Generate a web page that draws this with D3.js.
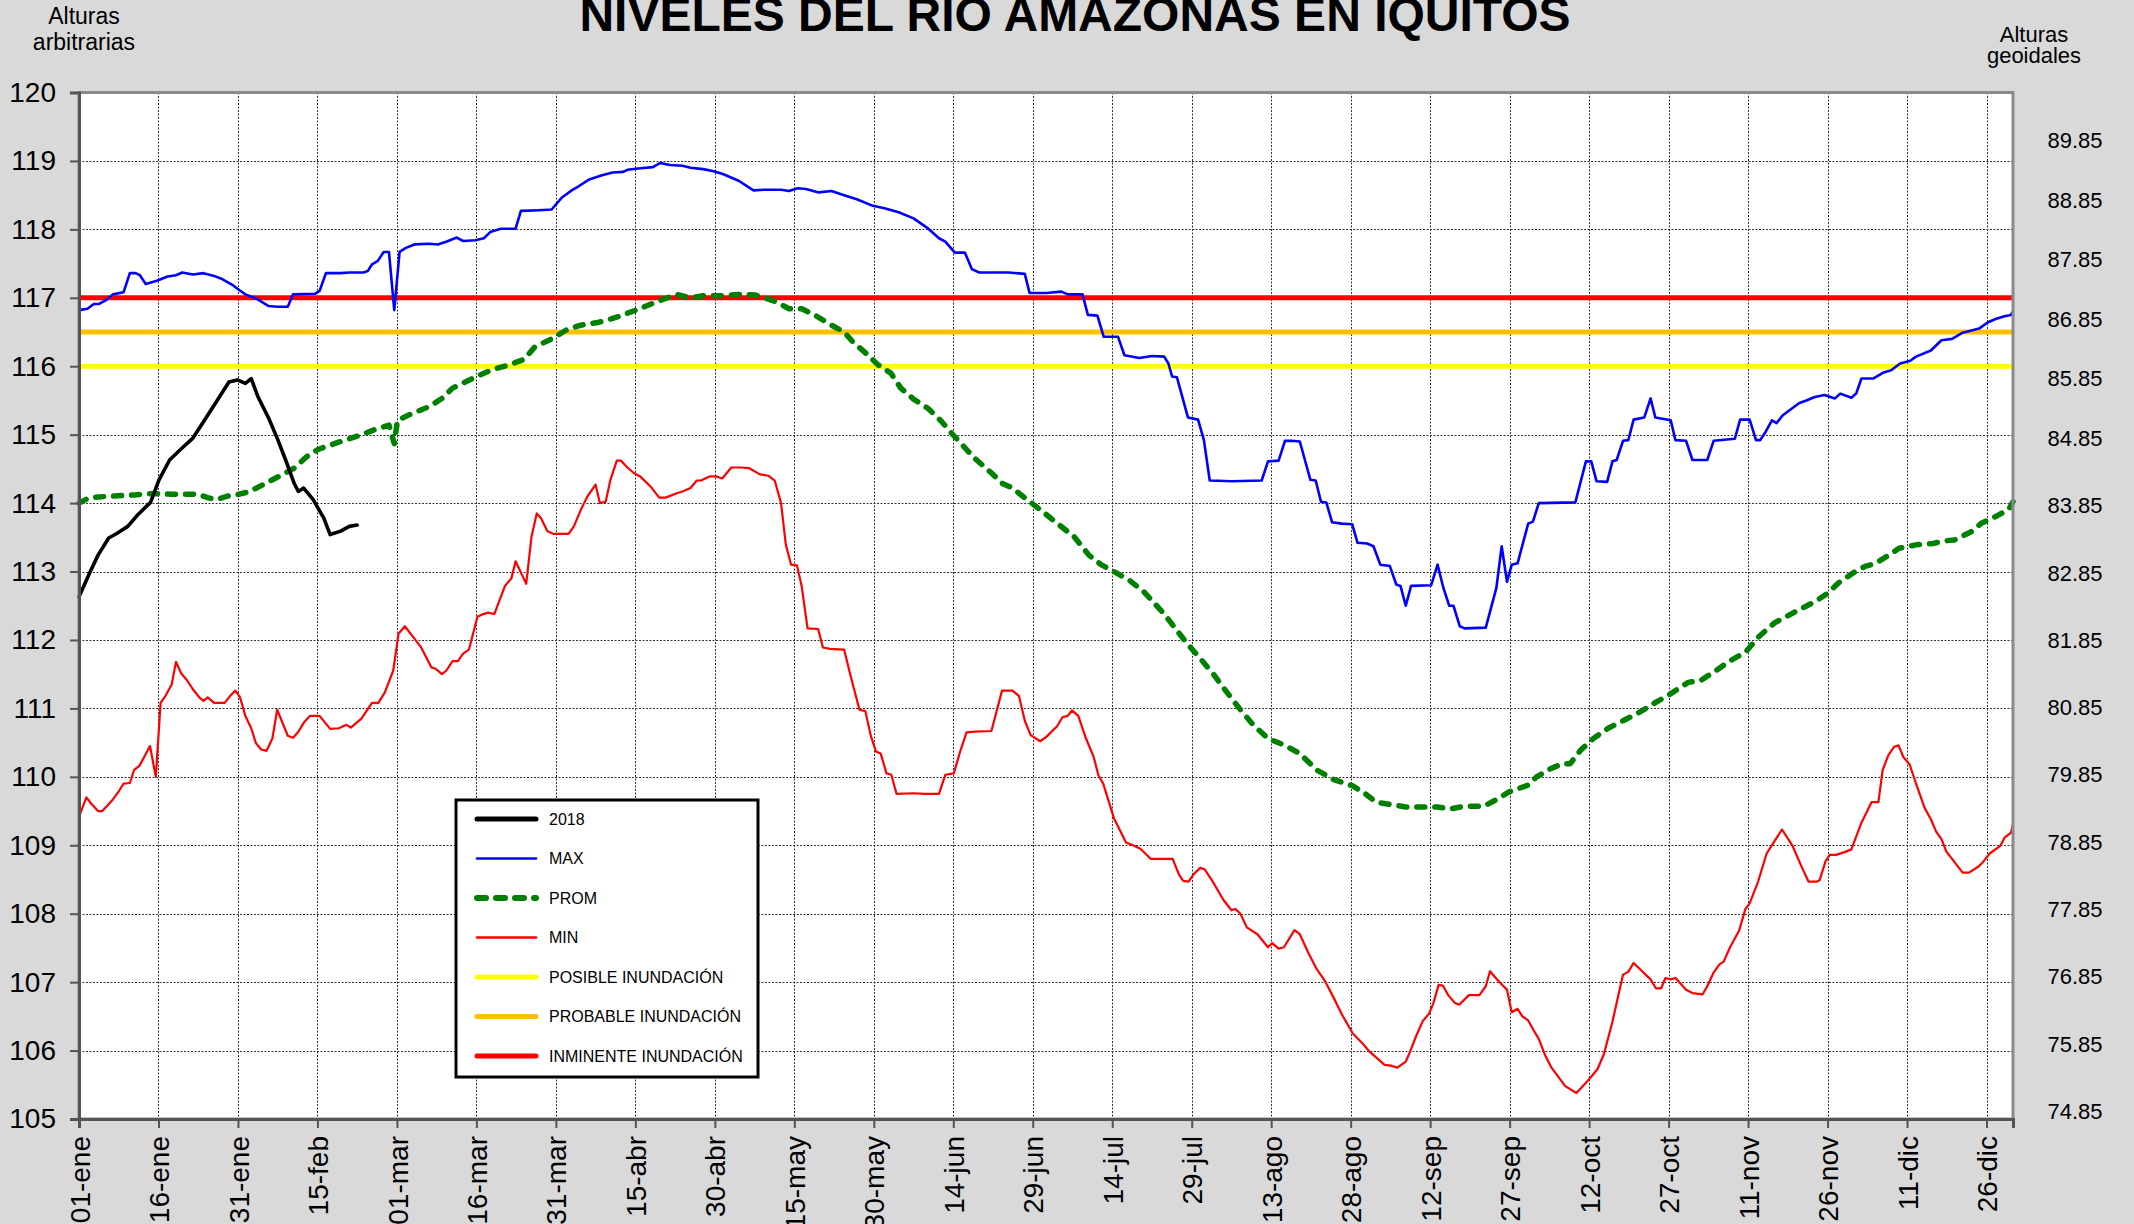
<!DOCTYPE html>
<html>
<head>
<meta charset="utf-8">
<script src="https://cdn.jsdelivr.net/npm/d3@7"></script>
<style>
  html, body { margin: 0; padding: 0; background: #d9d9d9; }
  svg { display: block; }
  text { font-family: "Liberation Sans", Arial, sans-serif; }
</style>
</head>
<body>
<svg id="chart" width="2134" height="1224"></svg>
<script>
// Day-of-year positions (0 = 01-ene, 366-day calendar) and river levels.
const dias2018 = [0, 2, 3.6, 5.6, 7.2, 9.2, 11.1, 13.5, 15.1, 17.1, 19.1, 21.5, 23.1, 25.5, 28.3, 29.9, 31.4, 32.5, 33.8, 35.8, 37.4, 39.0, 40.6, 41.4, 42.4, 44.2, 46.2, 47.4, 49.4, 51.0, 52.5];
const niv2018 = [112.63, 112.98, 113.24, 113.49, 113.56, 113.66, 113.83, 114.01, 114.34, 114.63, 114.78, 114.95, 115.14, 115.43, 115.77, 115.80, 115.75, 115.82, 115.55, 115.24, 114.95, 114.63, 114.29, 114.17, 114.22, 114.05, 113.78, 113.54, 113.59, 113.66, 113.68];

const diasMax = [0, 1.6, 2.8, 3.8, 5.2, 6.4, 8.4, 9.6, 10.7, 11.5, 12.6, 14.7, 16.7, 18.3, 19.5, 21.5, 23.5, 25.5, 27.1, 29.1, 30.3, 31.4, 33.4, 35.8, 37.4, 39.4, 40.4, 44.6, 45.4, 46.6, 49.4, 51.0, 53.7, 54.5, 55.3, 56.4, 57.5, 58.5, 59.5, 60.5, 61.7, 63.3, 66.1, 67.7, 69.3, 71.3, 72.5, 74.8, 76.4, 77.6, 79.6, 82.4, 83.4, 86.8, 89.2, 91.2, 93.2, 94.3, 96.3, 98.7, 100.7, 102.7, 103.5, 105.5, 108.3, 109.7, 111.5, 113.9, 115.4, 117.8, 119.8, 121.5, 124.5, 127.3, 129.3, 132.5, 134.0, 135.6, 137.2, 139.6, 142.0, 144.4, 146.8, 149.6, 152.0, 154.7, 157.5, 160.3, 162.3, 163.5, 165.3, 167.2, 168.5, 169.9, 175.4, 178.5, 179.4, 182.6, 185.4, 186.6, 189.4, 190.4, 192.2, 193.4, 196.1, 197.3, 200.1, 202.5, 204.8, 205.6, 206.3, 207.2, 209.3, 211.2, 212.3, 213.4, 217.6, 223.2, 224.4, 226.4, 227.6, 228.8, 230.4, 232.4, 233.4, 234.4, 235.4, 236.5, 238.3, 240.3, 241.3, 243.1, 244.3, 245.6, 247.4, 248.6, 249.4, 250.4, 251.4, 255.2, 256.4, 257.5, 258.6, 259.4, 260.6, 261.5, 265.5, 267.5, 268.5, 269.5, 270.4, 271.5, 273.5, 274.4, 275.5, 282.4, 284.4, 285.4, 286.4, 288.4, 289.4, 290.2, 291.4, 292.4, 293.4, 295.4, 296.6, 297.5, 300.4, 301.3, 303.3, 304.5, 307.3, 308.5, 312.5, 313.5, 315.3, 316.5, 317.3, 318.3, 319.5, 320.4, 321.5, 324.6, 326.0, 327.6, 329.4, 331.4, 332.4, 334.5, 335.4, 336.4, 338.6, 340.6, 342.0, 343.7, 345.6, 346.7, 349.5, 351.5, 353.5, 355.5, 358.6, 360.2, 361.7, 363.4, 364.6, 365];
const nivMax = [116.82, 116.84, 116.91, 116.91, 116.97, 117.05, 117.08, 117.36, 117.36, 117.33, 117.20, 117.25, 117.31, 117.33, 117.37, 117.34, 117.36, 117.32, 117.27, 117.18, 117.11, 117.05, 116.99, 116.88, 116.87, 116.87, 117.05, 117.06, 117.10, 117.36, 117.36, 117.37, 117.37, 117.39, 117.49, 117.54, 117.67, 117.67, 116.82, 117.67, 117.73, 117.78, 117.79, 117.78, 117.82, 117.88, 117.83, 117.84, 117.87, 117.96, 118.01, 118.01, 118.27, 118.28, 118.29, 118.47, 118.58, 118.63, 118.73, 118.79, 118.83, 118.84, 118.87, 118.89, 118.91, 118.97, 118.94, 118.93, 118.90, 118.88, 118.85, 118.81, 118.71, 118.57, 118.58, 118.58, 118.56, 118.60, 118.59, 118.54, 118.56, 118.50, 118.44, 118.35, 118.31, 118.25, 118.16, 118.01, 117.87, 117.82, 117.66, 117.66, 117.42, 117.37, 117.37, 117.35, 117.07, 117.07, 117.09, 117.05, 117.05, 116.75, 116.74, 116.43, 116.43, 116.16, 116.12, 116.15, 116.14, 116.04, 115.85, 115.84, 115.25, 115.22, 114.92, 114.33, 114.32, 114.33, 114.61, 114.62, 114.91, 114.91, 114.90, 114.34, 114.33, 114.02, 114.01, 113.72, 113.70, 113.69, 113.42, 113.41, 113.37, 113.10, 113.08, 112.81, 112.79, 112.50, 112.79, 112.80, 113.10, 112.76, 112.50, 112.50, 112.20, 112.17, 112.18, 112.76, 113.37, 112.85, 113.10, 113.12, 113.70, 113.73, 114.00, 114.01, 114.61, 114.61, 114.32, 114.31, 114.61, 114.63, 114.91, 114.92, 115.22, 115.25, 115.53, 115.25, 115.21, 114.92, 114.91, 114.63, 114.63, 114.91, 114.94, 115.22, 115.22, 114.92, 114.92, 115.04, 115.21, 115.17, 115.28, 115.46, 115.50, 115.55, 115.58, 115.53, 115.60, 115.54, 115.60, 115.82, 115.82, 115.91, 115.94, 116.04, 116.08, 116.14, 116.23, 116.38, 116.40, 116.49, 116.55, 116.64, 116.69, 116.73, 116.75, 116.80];

const diasProm = [0, 2, 5.6, 10.4, 14.3, 17.5, 22.3, 24.3, 25.9, 27.9, 30.3, 32.2, 35.0, 38.2, 40.6, 43.0, 45.0, 48.6, 52.6, 55.7, 58.5, 59.5, 60.1, 62.9, 66.1, 68.5, 70.5, 72.9, 75.6, 78.0, 81.2, 84.0, 86.0, 89.2, 92.0, 94.7, 97.9, 99.1, 101.9, 105.5, 108.3, 110.7, 112.7, 115.4, 117.8, 121.5, 124.5, 127.7, 131.7, 134.0, 136.4, 138.8, 142.0, 144.4, 146.0, 148.8, 150.8, 153.2, 155.1, 157.5, 160.3, 162.7, 164.7, 166.7, 169.1, 172.2, 174.2, 176.2, 178.6, 181.8, 185.0, 187.8, 190.6, 192.9, 195.3, 198.1, 200.9, 204.1, 205.7, 208.9, 211.7, 214.1, 216.4, 219.2, 221.6, 224.4, 227.6, 230.4, 233.6, 236.8, 240.3, 242.3, 244.8, 247.2, 250.4, 253.6, 256.4, 258.8, 261.5, 265.1, 267.1, 269.9, 273.5, 275.1, 277.5, 279.9, 281.4, 283.4, 285.8, 288.6, 291.4, 294.2, 297.4, 300.5, 303.7, 306.1, 308.5, 311.7, 314.5, 316.9, 320.0, 323.6, 327.6, 330.0, 332.0, 334.8, 337.2, 338.8, 341.6, 343.5, 346.7, 349.9, 352.3, 353.9, 357.1, 359.1, 361.9, 364.2, 365];
const nivProm = [114.00, 114.08, 114.10, 114.12, 114.14, 114.13, 114.13, 114.08, 114.05, 114.10, 114.13, 114.17, 114.28, 114.41, 114.51, 114.68, 114.78, 114.88, 114.98, 115.07, 115.14, 114.87, 115.21, 115.31, 115.41, 115.53, 115.68, 115.77, 115.87, 115.95, 116.02, 116.10, 116.28, 116.40, 116.53, 116.60, 116.64, 116.66, 116.73, 116.83, 116.92, 116.99, 117.05, 117.00, 117.03, 117.03, 117.05, 117.04, 116.94, 116.84, 116.84, 116.75, 116.60, 116.50, 116.36, 116.17, 116.02, 115.90, 115.68, 115.52, 115.38, 115.20, 115.02, 114.85, 114.65, 114.44, 114.29, 114.22, 114.07, 113.88, 113.68, 113.51, 113.24, 113.10, 113.00, 112.88, 112.71, 112.44, 112.29, 111.97, 111.72, 111.50, 111.26, 110.98, 110.76, 110.56, 110.46, 110.34, 110.10, 109.96, 109.87, 109.78, 109.63, 109.60, 109.56, 109.56, 109.56, 109.53, 109.57, 109.57, 109.65, 109.78, 109.88, 110.00, 110.11, 110.19, 110.19, 110.39, 110.56, 110.71, 110.82, 110.93, 111.08, 111.22, 111.38, 111.41, 111.53, 111.70, 111.82, 112.04, 112.25, 112.40, 112.56, 112.68, 112.83, 112.98, 113.08, 113.11, 113.24, 113.34, 113.39, 113.41, 113.45, 113.46, 113.58, 113.71, 113.81, 113.91, 114.02];

const diasMin = [0, 1.4, 2.4, 3.6, 4.4, 5.6, 6.4, 7.6, 8.4, 9.6, 10.4, 11.4, 12.3, 13.4, 14.5, 15.4, 16.3, 17.5, 18.3, 19.3, 20.3, 21.5, 22.7, 23.5, 24.3, 25.5, 27.5, 28.5, 29.5, 30.4, 31.4, 32.5, 33.4, 34.4, 35.4, 36.5, 37.4, 38.4, 39.4, 40.4, 41.4, 42.6, 43.6, 45.4, 47.4, 49.0, 50.5, 51.3, 53.3, 55.3, 56.5, 57.7, 59.3, 60.3, 61.5, 62.9, 64.5, 66.5, 67.3, 68.5, 69.3, 70.5, 71.5, 72.5, 73.6, 75.2, 76.0, 77.2, 78.4, 80.4, 81.6, 82.4, 84.4, 85.4, 86.4, 87.2, 88.4, 89.6, 92.4, 93.4, 94.7, 95.9, 97.5, 98.3, 99.4, 100.3, 101.5, 102.3, 103.5, 104.7, 105.9, 107.9, 109.5, 110.7, 112.7, 113.9, 115.4, 116.6, 117.4, 119.0, 120.2, 121.4, 123.1, 124.9, 126.5, 128.5, 130.1, 131.3, 132.5, 133.4, 134.4, 135.5, 136.4, 137.5, 139.5, 140.4, 141.8, 144.4, 145.6, 147.3, 148.4, 149.4, 150.4, 151.3, 152.4, 153.3, 154.3, 157.5, 159.5, 162.3, 163.5, 165.1, 166.3, 167.5, 169.1, 172.2, 174.2, 176.2, 177.4, 178.5, 179.6, 181.4, 182.5, 184.6, 185.6, 186.6, 187.4, 188.6, 189.9, 191.5, 192.4, 193.3, 195.3, 197.6, 198.9, 200.3, 202.3, 206.4, 207.6, 208.4, 209.4, 210.4, 211.6, 212.4, 213.8, 216.0, 217.5, 218.2, 219.2, 220.4, 222.4, 224.4, 225.2, 226.4, 227.4, 229.4, 230.4, 232.0, 233.6, 235.2, 236.8, 238.4, 240.4, 242.3, 243.6, 244.8, 246.4, 247.6, 248.8, 250.4, 251.2, 252.4, 253.6, 254.8, 255.6, 256.6, 257.4, 258.4, 259.6, 260.5, 262.3, 264.3, 265.5, 266.3, 267.5, 268.7, 269.5, 270.4, 271.5, 272.4, 273.5, 274.5, 275.5, 276.7, 277.9, 280.5, 282.6, 283.8, 285.0, 286.6, 287.8, 289.4, 291.4, 292.4, 293.4, 295.0, 296.6, 297.6, 298.6, 299.4, 300.4, 301.3, 303.3, 304.5, 306.4, 307.3, 308.5, 309.6, 310.4, 311.6, 313.3, 314.5, 315.3, 316.9, 318.5, 320.0, 321.4, 323.4, 325.2, 326.4, 328.0, 328.5, 329.6, 330.4, 331.6, 333.2, 334.5, 336.4, 338.3, 339.6, 340.4, 341.5, 342.6, 343.4, 344.3, 345.5, 346.7, 348.3, 349.5, 350.5, 351.5, 352.4, 353.9, 355.5, 356.7, 358.5, 359.4, 360.6, 362.6, 363.4, 364.6, 365];
const nivMin = [109.42, 109.70, 109.60, 109.50, 109.50, 109.60, 109.67, 109.80, 109.90, 109.91, 110.10, 110.16, 110.29, 110.45, 110.00, 111.08, 111.18, 111.35, 111.68, 111.51, 111.42, 111.28, 111.16, 111.11, 111.16, 111.08, 111.08, 111.18, 111.26, 111.16, 110.89, 110.71, 110.49, 110.40, 110.38, 110.56, 110.98, 110.79, 110.60, 110.57, 110.66, 110.81, 110.89, 110.89, 110.70, 110.71, 110.76, 110.72, 110.85, 111.08, 111.08, 111.23, 111.55, 112.09, 112.20, 112.06, 111.90, 111.60, 111.58, 111.50, 111.55, 111.69, 111.69, 111.80, 111.86, 112.34, 112.37, 112.40, 112.38, 112.79, 112.90, 113.15, 112.82, 113.51, 113.85, 113.78, 113.59, 113.55, 113.55, 113.66, 113.90, 114.09, 114.27, 114.00, 114.02, 114.34, 114.62, 114.62, 114.52, 114.44, 114.39, 114.24, 114.08, 114.08, 114.14, 114.17, 114.22, 114.33, 114.33, 114.39, 114.39, 114.36, 114.52, 114.52, 114.51, 114.42, 114.40, 114.33, 114.00, 113.39, 113.10, 113.09, 112.78, 112.17, 112.16, 111.89, 111.87, 111.86, 111.48, 110.98, 110.96, 110.61, 110.37, 110.34, 110.05, 110.03, 109.75, 109.76, 109.75, 109.75, 110.03, 110.05, 110.37, 110.65, 110.66, 110.67, 111.26, 111.26, 111.18, 110.82, 110.61, 110.52, 110.58, 110.74, 110.87, 110.89, 110.97, 110.89, 110.59, 110.29, 110.02, 109.90, 109.40, 109.04, 109.00, 108.95, 108.80, 108.80, 108.57, 108.48, 108.47, 108.58, 108.67, 108.65, 108.49, 108.20, 108.05, 108.07, 108.00, 107.80, 107.70, 107.51, 107.57, 107.49, 107.51, 107.76, 107.70, 107.43, 107.19, 107.01, 106.77, 106.52, 106.25, 106.10, 105.98, 105.90, 105.79, 105.78, 105.75, 105.84, 105.98, 106.22, 106.43, 106.54, 106.69, 106.96, 106.95, 106.81, 106.70, 106.67, 106.81, 106.81, 106.94, 107.16, 107.05, 106.95, 106.89, 106.56, 106.61, 106.50, 106.44, 106.30, 106.17, 105.93, 105.75, 105.48, 105.38, 105.48, 105.58, 105.73, 105.95, 106.42, 107.11, 107.15, 107.28, 107.16, 107.04, 106.91, 106.91, 107.06, 107.04, 107.06, 106.89, 106.84, 106.82, 106.94, 107.14, 107.26, 107.30, 107.51, 107.75, 108.07, 108.15, 108.47, 108.88, 109.06, 109.23, 108.99, 108.67, 108.47, 108.47, 108.49, 108.76, 108.86, 108.86, 108.90, 108.94, 109.33, 109.63, 109.63, 110.10, 110.32, 110.44, 110.46, 110.29, 110.18, 109.90, 109.55, 109.38, 109.20, 109.09, 108.91, 108.76, 108.60, 108.60, 108.69, 108.76, 108.88, 108.99, 109.11, 109.18, 109.31];

// Alert levels (arbitrary heights)
const nivelesAlerta = [116, 116.5, 117];
const nombresAlerta = ["POSIBLE INUNDACIÓN", "PROBABLE INUNDACIÓN", "INMINENTE INUNDACIÓN"];
const coloresAlerta = ["#ffff00", "#ffc000", "#ff0000"];

// Axis ticks
const ticksY = [105, 106, 107, 108, 109, 110, 111, 112, 113, 114, 115, 116, 117, 118, 119, 120];
const ticksGeoidal = [89.85, 88.85, 87.85, 86.85, 85.85, 84.85, 83.85, 82.85, 81.85, 80.85, 79.85, 78.85, 77.85, 76.85, 75.85, 74.85];
const ticksDia = [0, 15, 30, 45, 60, 75, 90, 105, 120, 135, 150, 165, 180, 195, 210, 225, 240, 255, 270, 285, 300, 315, 330, 345, 360];
const etiquetasDia = ["01-ene", "16-ene", "31-ene", "15-feb", "01-mar", "16-mar", "31-mar", "15-abr", "30-abr", "15-may", "30-may", "14-jun", "29-jun", "14-jul", "29-jul", "13-ago", "28-ago", "12-sep", "27-sep", "12-oct", "27-oct", "11-nov", "26-nov", "11-dic", "26-dic"];

const svg = d3.select("#chart");
const pLeft = 79, pRight = 2013, pTop = 92.5, pBottom = 1119;

const x = d3.scaleLinear().domain([0, 365]).range([pLeft, pRight]);
const y = d3.scaleLinear().domain([105, 120]).range([pBottom, pTop]);
// Geoidal label column: evenly spaced below 84.85, tighter above it
const yGeo = d3.scaleLinear().domain([74.85, 84.85, 89.85]).range([1111, 438, 140]);

// Titles
svg.append("text")
  .attr("x", 1075).attr("y", 31)
  .attr("text-anchor", "middle")
  .attr("font-size", 48).attr("font-weight", "bold")
  .attr("fill", "#000")
  .text("NIVELES DEL RIO AMAZONAS EN IQUITOS");

const tIzq = svg.append("text").attr("text-anchor", "middle").attr("font-size", 23).attr("fill", "#000");
tIzq.append("tspan").attr("x", 84).attr("y", 24).text("Alturas");
tIzq.append("tspan").attr("x", 84).attr("y", 50).text("arbitrarias");

const tDer = svg.append("text").attr("text-anchor", "middle").attr("font-size", 22).attr("fill", "#000");
tDer.append("tspan").attr("x", 2034).attr("y", 42).text("Alturas");
tDer.append("tspan").attr("x", 2034).attr("y", 63).text("geoidales");

// Plot area
svg.append("rect")
  .attr("x", pLeft).attr("y", pTop)
  .attr("width", pRight - pLeft).attr("height", pBottom - pTop)
  .attr("fill", "#fff");

const grid = svg.append("g").attr("stroke", "#333").attr("stroke-width", 1).attr("stroke-dasharray", "2,1.5");
grid.selectAll("line.h").data(ticksY.filter(d => d > 105 && d < 120)).join("line")
  .attr("x1", pLeft).attr("x2", pRight)
  .attr("y1", d => Math.round(y(d)) + 0.5).attr("y2", d => Math.round(y(d)) + 0.5);
grid.selectAll("line.v").data(ticksDia.filter(d => d > 0)).join("line")
  .attr("y1", pTop).attr("y2", pBottom)
  .attr("x1", d => Math.round(x(d)) + 0.5).attr("x2", d => Math.round(x(d)) + 0.5);

// Alert level lines
svg.append("g").selectAll("line").data(nivelesAlerta).join("line")
  .attr("x1", pLeft).attr("x2", pRight)
  .attr("y1", d => y(d)).attr("y2", d => y(d))
  .attr("stroke", (d, i) => coloresAlerta[i])
  .attr("stroke-width", 5);

const linea = d3.line().x(d => x(d[0])).y(d => y(d[1]));
const serie = (dias, niveles) => dias.map((d, i) => [d, niveles[i]]);

const plot = svg.append("g");
plot.append("path").datum(serie(diasMin, nivMin))
  .attr("d", linea).attr("fill", "none").attr("stroke", "#ff0000").attr("stroke-width", 2.2)
  .attr("stroke-linejoin", "round");
plot.append("path").datum(serie(diasProm, nivProm))
  .attr("d", linea).attr("fill", "none").attr("stroke", "#008000").attr("stroke-width", 5.5)
  .attr("stroke-dasharray", "8,10").attr("stroke-linecap", "round").attr("stroke-linejoin", "round");
plot.append("path").datum(serie(diasMax, nivMax))
  .attr("d", linea).attr("fill", "none").attr("stroke", "#0000ff").attr("stroke-width", 2.6)
  .attr("stroke-linejoin", "round");
plot.append("path").datum(serie(dias2018, niv2018))
  .attr("d", linea).attr("fill", "none").attr("stroke", "#000").attr("stroke-width", 3.6)
  .attr("stroke-linejoin", "round").attr("stroke-linecap", "round");

// Plot border
svg.append("rect")
  .attr("x", pLeft).attr("y", pTop)
  .attr("width", pRight - pLeft).attr("height", pBottom - pTop)
  .attr("fill", "none").attr("stroke", "#8a8a8a").attr("stroke-width", 3);

// Left axis
const ejeY = svg.append("g").attr("transform", `translate(${pLeft},0)`)
  .call(d3.axisLeft(y).tickValues(ticksY).tickSize(9).tickPadding(14).tickFormat(d3.format("d")));
ejeY.select(".domain").attr("stroke", "#555").attr("stroke-width", 3);
ejeY.selectAll(".tick line").attr("stroke", "#555").attr("stroke-width", 2);
ejeY.selectAll(".tick text").attr("font-size", 28).attr("fill", "#000")
  .attr("font-family", "'Liberation Sans', Arial, sans-serif");

// Bottom axis
const ejeX = svg.append("g").attr("transform", `translate(0,${pBottom})`)
  .call(d3.axisBottom(x).tickValues(ticksDia).tickSize(9).tickFormat((d, i) => etiquetasDia[i]));
ejeX.select(".domain").attr("stroke", "#555").attr("stroke-width", 3);
ejeX.selectAll(".tick line").attr("stroke", "#555").attr("stroke-width", 2);
ejeX.selectAll(".tick text")
  .attr("font-size", 28).attr("fill", "#000")
  .attr("font-family", "'Liberation Sans', Arial, sans-serif")
  .attr("text-anchor", "end")
  .attr("transform", "rotate(-90)")
  .attr("x", -17).attr("y", 0).attr("dy", "0.36em");

// Right-hand geoidal heights
svg.append("g").selectAll("text").data(ticksGeoidal).join("text")
  .attr("x", 2075).attr("y", d => yGeo(d)).attr("dy", "0.36em")
  .attr("text-anchor", "middle").attr("font-size", 22).attr("fill", "#000")
  .text(d => d.toFixed(2));

// Legend
const leyenda = [
  { nombre: "2018", color: "#000", ancho: 5, guion: null },
  { nombre: "MAX", color: "#0000ff", ancho: 2.6, guion: null },
  { nombre: "PROM", color: "#008000", ancho: 6, guion: "9,10" },
  { nombre: "MIN", color: "#ff0000", ancho: 2.6, guion: null },
  { nombre: nombresAlerta[0], color: coloresAlerta[0], ancho: 5, guion: null },
  { nombre: nombresAlerta[1], color: coloresAlerta[1], ancho: 5, guion: null },
  { nombre: nombresAlerta[2], color: coloresAlerta[2], ancho: 5, guion: null }
];
const leg = svg.append("g");
leg.append("rect").attr("x", 456).attr("y", 800).attr("width", 302).attr("height", 277)
  .attr("fill", "#fff").attr("stroke", "#000").attr("stroke-width", 3);
const filas = leg.selectAll("g.fila").data(leyenda).join("g")
  .attr("transform", (d, i) => `translate(0,${819 + i * 39.5})`);
filas.append("line").attr("x1", 477).attr("x2", 536).attr("y1", 0).attr("y2", 0)
  .attr("stroke", d => d.color).attr("stroke-width", d => d.ancho)
  .attr("stroke-linecap", "round")
  .attr("stroke-dasharray", d => d.guion);
filas.append("text").attr("x", 549).attr("y", 0).attr("dy", "0.36em")
  .attr("font-size", 16).attr("fill", "#000").text(d => d.nombre);
</script>
</body>
</html>
